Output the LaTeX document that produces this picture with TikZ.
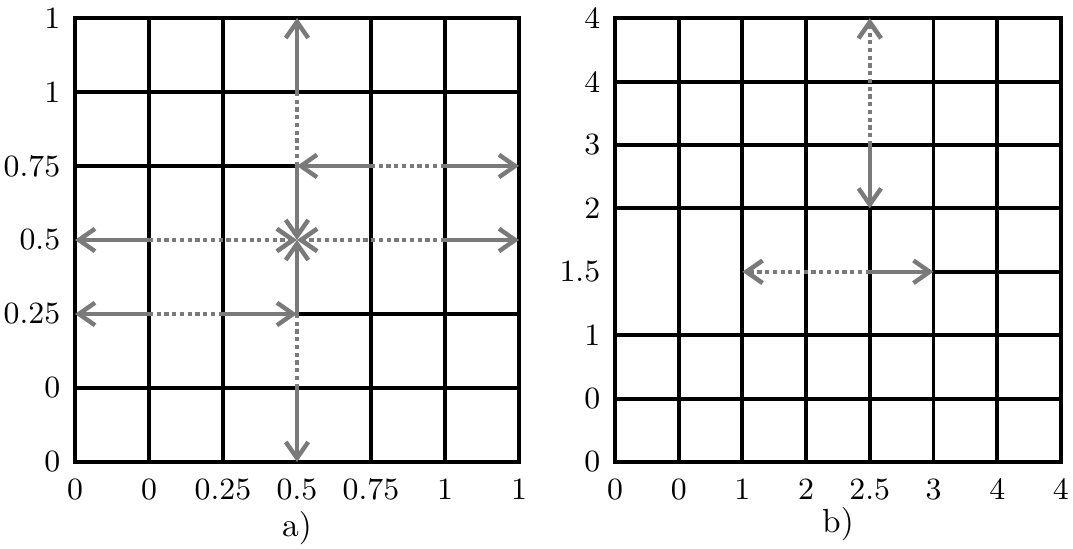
\documentclass[tikz,border=0pt]{standalone}
\usepackage{tikz}
\usetikzlibrary{arrows.meta,positioning}
\definecolor{arrowgrey}{RGB}{122,122,122}

\begin{document}
\begin{tikzpicture}[
    gridline/.style={draw=black, line width=1.1pt, line cap=rect},
    solidarrow/.style={draw=arrowgrey, line width=1.25pt, -{Straight Barb[length=4.6pt, width=6.4pt]}},
    dotline/.style={draw=arrowgrey, line width=1.3pt, dash pattern=on 1.2pt off 1pt},
    dotarrow/.style={dotline, -{Straight Barb[length=4.6pt, width=6.4pt]}},
    lab/.style={font=\fontsize{8.8}{10}\selectfont, inner sep=1pt},
    xlab/.style={lab, anchor=north, yshift=-3.5pt},
    ylab/.style={lab, anchor=east, xshift=-3pt},
    caption/.style={font=\fontsize{9.5}{11}\selectfont}
]
    \useasboundingbox (0,0) rectangle (10.73,5.49);

    % a) unit square, 6 x 6 cells
    \begin{scope}[shift={(0.75,0.87)}, x=0.74cm, y=0.74cm]
        \draw[gridline] (0,0) -- (0,6) (1,0) -- (1,6) (2,0) -- (2,6)
                        (4,0) -- (4,6) (5,0) -- (5,6) (6,0) -- (6,6);
        \draw[gridline] (0,0) -- (6,0) (0,1) -- (6,1) (0,5) -- (6,5) (0,6) -- (6,6);
        \draw[gridline] (0,4) -- (3,4);
        \draw[gridline] (3,2) -- (6,2);

        \coordinate (a-3-6) at (3,6);
        \coordinate (a-3-5) at (3,5);
        \coordinate (a-3-4) at (3,4);
        \coordinate (a-3-3) at (3,3);
        \coordinate (a-3-2) at (3,2);
        \coordinate (a-3-1) at (3,1);
        \coordinate (a-3-0) at (3,0);
        \coordinate (a-0-3) at (0,3);
        \coordinate (a-1-3) at (1,3);
        \coordinate (a-5-3) at (5,3);
        \coordinate (a-6-3) at (6,3);
        \coordinate (a-4-4) at (4,4);
        \coordinate (a-5-4) at (5,4);
        \coordinate (a-6-4) at (6,4);
        \coordinate (a-0-2) at (0,2);
        \coordinate (a-1-2) at (1,2);
        \coordinate (a-2-2) at (2,2);

        % vertical split
        \draw[solidarrow] (a-3-5) -- (a-3-6);
        \draw[dotline] (a-3-5) -- (a-3-4);
        \draw[solidarrow] (a-3-4) -- (a-3-3);
        \draw[solidarrow] (a-3-2) -- (a-3-3);
        \draw[dotline] (a-3-2) -- (a-3-1);
        \draw[solidarrow] (a-3-1) -- (a-3-0);
        % horizontal split
        \draw[solidarrow] (a-1-3) -- (a-0-3);
        \draw[dotarrow] (a-1-3) -- (a-3-3);
        \draw[dotarrow] (a-5-3) -- (a-3-3);
        \draw[solidarrow] (a-5-3) -- (a-6-3);
        \draw[solidarrow] (a-4-4) -- (a-3-4);
        \draw[dotline] (a-4-4) -- (a-5-4);
        \draw[solidarrow] (a-5-4) -- (a-6-4);
        \draw[solidarrow] (a-1-2) -- (a-0-2);
        \draw[dotline] (a-1-2) -- (a-2-2);
        \draw[solidarrow] (a-2-2) -- (a-3-2);

        \node[xlab] (ax0) at (0,0) {0};
        \node[xlab] (ax1) at (1,0) {0};
        \node[xlab] (ax2) at (2,0) {0.25};
        \node[xlab] (ax3) at (3,0) {0.5};
        \node[xlab] (ax4) at (4,0) {0.75};
        \node[xlab] (ax5) at (5,0) {1};
        \node[xlab] (ax6) at (6,0) {1};

        \node[ylab] (ay0) at (0,0) {0};
        \node[ylab] (ay1) at (0,1) {0};
        \node[ylab] (ay2) at (0,2) {0.25};
        \node[ylab] (ay3) at (0,3) {0.5};
        \node[ylab] (ay4) at (0,4) {0.75};
        \node[ylab] (ay5) at (0,5) {1};
        \node[ylab] (ay6) at (0,6) {1};
    \end{scope}

    % b) square of side 4, 7 x 7 cells
    \begin{scope}[shift={(6.15,0.87)}, x=0.637cm, y=0.634cm]
        \draw[gridline] (0,0) -- (0,7) (1,0) -- (1,7) (2,0) -- (2,7) (3,0) -- (3,7)
                        (5,0) -- (5,7) (6,0) -- (6,7) (7,0) -- (7,7);
        \draw[gridline] (4,0) -- (4,4);
        \draw[gridline] (0,0) -- (7,0) (0,1) -- (7,1) (0,2) -- (7,2) (0,4) -- (7,4)
                        (0,5) -- (7,5) (0,6) -- (7,6) (0,7) -- (7,7);
        \draw[gridline] (5,3) -- (7,3);

        \coordinate (b-4-7) at (4,7);
        \coordinate (b-4-5) at (4,5);
        \coordinate (b-4-4) at (4,4);
        \coordinate (b-2-3) at (2,3);
        \coordinate (b-4-3) at (4,3);
        \coordinate (b-5-3) at (5,3);

        \draw[dotarrow] (b-4-5) -- (b-4-7);
        \draw[solidarrow] (b-4-5) -- (b-4-4);
        \draw[dotarrow] (b-4-3) -- (b-2-3);
        \draw[solidarrow] (b-4-3) -- (b-5-3);

        \node[xlab] (bx0) at (0,0) {0};
        \node[xlab] (bx1) at (1,0) {0};
        \node[xlab] (bx2) at (2,0) {1};
        \node[xlab] (bx3) at (3,0) {2};
        \node[xlab] (bx4) at (4,0) {2.5};
        \node[xlab] (bx5) at (5,0) {3};
        \node[xlab] (bx6) at (6,0) {4};
        \node[xlab] (bx7) at (7,0) {4};

        \node[ylab] (by0) at (0,0) {0};
        \node[ylab] (by1) at (0,1) {0};
        \node[ylab] (by2) at (0,2) {1};
        \node[ylab] (by3) at (0,3) {1.5};
        \node[ylab] (by4) at (0,4) {2};
        \node[ylab] (by5) at (0,5) {3};
        \node[ylab] (by6) at (0,6) {4};
        \node[ylab] (by7) at (0,7) {4};
    \end{scope}

    \node[caption] (capa) at (2.97,0.21) {a)};
    \node[caption] (capb) at (8.38,0.25) {b)};
\end{tikzpicture}
\end{document}
